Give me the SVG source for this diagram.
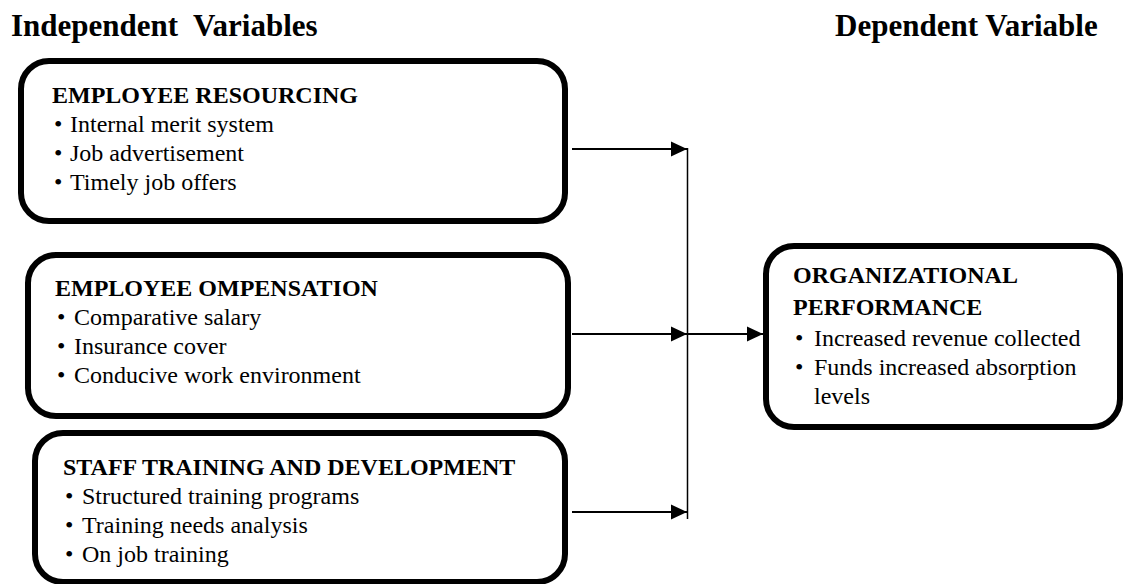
<svg xmlns="http://www.w3.org/2000/svg" width="1125" height="584" viewBox="0 0 1125 584">
<defs>
<style>
.box{fill:#fff;stroke:#000;stroke-width:6}
.t{font-family:"Liberation Serif","Times New Roman",serif;font-size:24px;fill:#000}
.h{font-weight:bold}
.title{font-family:"Liberation Serif","Times New Roman",serif;font-size:31px;font-weight:bold;fill:#000}
.ln{stroke:#000;stroke-width:2;fill:none}
.vl{stroke:#000;stroke-width:1.5;fill:none}
</style>
<marker id="ah" markerWidth="16" markerHeight="16" viewBox="0 0 16 16" refX="16" refY="8" orient="auto" markerUnits="userSpaceOnUse">
<path d="M0,0.5 L16,8 L0,15.5 Z" fill="#000"/>
</marker>
</defs>
<rect width="1125" height="584" fill="#fff"/>
<text class="title" x="11" y="36" xml:space="preserve">Independent  Variables</text>
<text class="title" x="835" y="36">Dependent Variable</text>

<g id="resourcing">
<rect class="box" x="21" y="61" width="544" height="160" rx="28"/>
<text class="t h" x="52" y="103">EMPLOYEE RESOURCING</text>
<text class="t" x="54" y="132">•</text><text class="t" x="70" y="132">Internal merit system</text>
<text class="t" x="54" y="161">•</text><text class="t" x="70" y="161">Job advertisement</text>
<text class="t" x="54" y="190">•</text><text class="t" x="70" y="190">Timely job offers</text>
</g>

<g id="compensation">
<rect class="box" x="28" y="255" width="540" height="161" rx="28"/>
<text class="t h" x="55" y="296">EMPLOYEE OMPENSATION</text>
<text class="t" x="57" y="325">•</text><text class="t" x="74" y="325">Comparative salary</text>
<text class="t" x="57" y="354">•</text><text class="t" x="74" y="354">Insurance cover</text>
<text class="t" x="57" y="383">•</text><text class="t" x="74" y="383">Conducive work environment</text>
</g>

<g id="training">
<rect class="box" x="35" y="433" width="530" height="149" rx="28"/>
<text class="t h" x="63" y="475">STAFF TRAINING AND DEVELOPMENT</text>
<text class="t" x="65" y="504">•</text><text class="t" x="82" y="504">Structured training programs</text>
<text class="t" x="65" y="533">•</text><text class="t" x="82" y="533">Training needs analysis</text>
<text class="t" x="65" y="562">•</text><text class="t" x="82" y="562">On job training</text>
</g>

<g id="performance">
<rect class="box" x="766" y="246" width="354" height="181" rx="28"/>
<text class="t h" x="793" y="283">ORGANIZATIONAL</text>
<text class="t h" x="793" y="315">PERFORMANCE</text>
<text class="t" x="795" y="346">•</text><text class="t" x="814" y="346">Increased revenue collected</text>
<text class="t" x="795" y="375">•</text><text class="t" x="814" y="375">Funds increased absorption</text>
<text class="t" x="814" y="404">levels</text>
</g>

<g id="connectors">
<line class="ln" x1="572" y1="149" x2="687" y2="149" marker-end="url(#ah)"/>
<line class="ln" x1="572" y1="334" x2="687" y2="334" marker-end="url(#ah)"/>
<line class="ln" x1="572" y1="512" x2="687" y2="512" marker-end="url(#ah)"/>
<line class="vl" x1="687.5" y1="148" x2="687.5" y2="519"/>
<line class="ln" x1="688" y1="334" x2="763" y2="334" marker-end="url(#ah)"/>
</g>
</svg>
